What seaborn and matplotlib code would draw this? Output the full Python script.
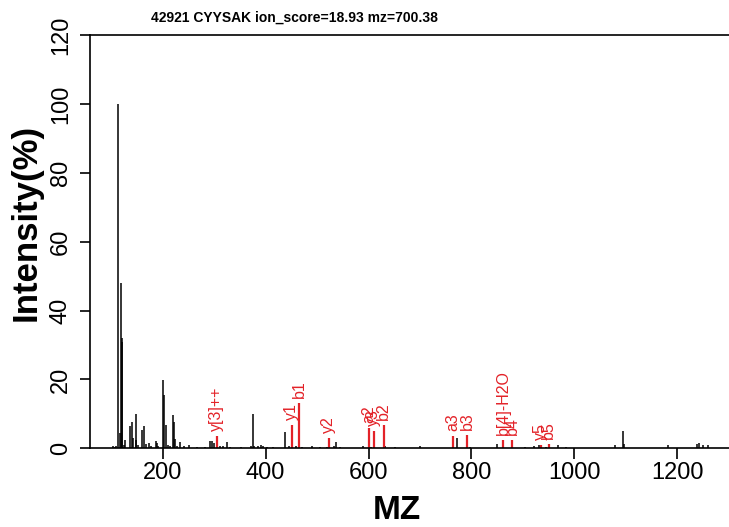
import numpy as np
import pandas as pd
import matplotlib
matplotlib.use("Agg")
import matplotlib.pyplot as plt
import seaborn as sns

# spectrum peaks (m/z, relative intensity %)
peak_mz = [103, 107, 110, 113, 116, 118.5, 120, 121, 124, 127, 135.8, 140, 142, 147.5, 149, 152,
           159, 164.5, 167, 174, 178, 186, 188.5, 191, 201, 203, 206, 210, 215, 219.5, 221.5, 224,
           228, 233.5, 241, 251.5, 266, 283, 292, 296, 300, 312, 318, 324, 330, 353, 372, 374.5,
           378, 386, 390, 395, 402, 415, 437.5, 445, 458, 470, 490, 506, 520, 533, 536.5, 545,
           590, 604, 632, 651, 700, 772.5, 797, 850, 904, 921.5, 932, 944, 967.5, 983, 1078,
           1094.5, 1097, 1181, 1237.5, 1242.5, 1250.5, 1259]
peak_int = [0.6, 0.5, 0.8, 100, 4.5, 48, 32, 31, 1.0, 2.5, 6.5, 7.7, 3.0, 9.9, 2.5, 1.0,
            5.3, 6.5, 1.2, 1.5, 0.8, 2.2, 1.6, 0.8, 19.9, 15.5, 6.8, 1.0, 0.8, 9.7, 7.7, 2.7,
            0.8, 1.9, 0.6, 1.1, 0.5, 0.4, 2.1, 2.0, 1.5, 0.8, 0.6, 1.9, 0.5, 0.4, 0.7, 9.9,
            0.8, 0.8, 0.9, 0.6, 0.5, 0.4, 4.8, 0.6, 0.7, 0.5, 0.8, 0.5, 0.5, 0.8, 1.9, 0.4,
            0.8, 0.5, 0.7, 0.4, 0.8, 3.0, 0.5, 1.3, 0.4, 0.8, 1.1, 0.5, 1.0, 0.4, 0.9,
            5.1, 1.2, 0.9, 1.2, 1.6, 0.9, 0.9]

# matched fragment ions
ion_labels = ["y[3]++", "y1", "b1", "y2", "a2", "y3", "b2", "a3", "b3", "b[4]-H2O", "b4", "y5", "b5"]
ion_mz = [305, 451, 465, 523, 601, 610, 629, 763.5, 791.3, 862, 879.5, 935, 950]
ion_int = [3.6, 6.8, 13.1, 3.0, 5.8, 4.9, 6.8, 3.6, 3.8, 2.3, 2.3, 1.0, 1.2]

title = "42921 CYYSAK ion_score=18.93 mz=700.38"

sns.set_style("ticks", {"axes.edgecolor": "black", "xtick.color": "black",
                        "ytick.color": "black", "text.color": "black",
                        "axes.labelcolor": "black"})
plt.rcParams['font.family'] = ['Liberation Sans', 'DejaVu Sans']

peaks = pd.DataFrame({"mz": peak_mz, "intensity": peak_int})
ions = pd.DataFrame({"mz": ion_mz, "intensity": ion_int, "label": ion_labels})

fig = plt.figure(figsize=(7.29, 5.27), dpi=100)
ax = fig.add_axes([0.1235, 0.1493, 0.8765, 0.7843])

ax.vlines(peaks["mz"], 0, peaks["intensity"], color="black", linewidth=1.1)
ax.vlines(ions["mz"], 0, ions["intensity"], color="#e32228", linewidth=1.6)
for _, r in ions.iterrows():
    ax.text(r["mz"], r["intensity"] + 1.5, r["label"], rotation=90, ha="center", va="bottom",
            color="#e32228", fontsize=11.5)

ax.set_xlim(58.7, 1300.4)
ax.set_ylim(0, 120)
ax.set_xticks([200, 400, 600, 800, 1000, 1200])
ax.set_yticks([0, 20, 40, 60, 80, 100, 120])
ax.tick_params(axis="x", length=8, width=1.2, labelsize=17, pad=2)
ax.tick_params(axis="y", length=7, width=1.2, labelsize=17, pad=6)
for lab in ax.get_yticklabels():
    lab.set_rotation(90)
    lab.set_va("center")
ax.spines["right"].set_visible(False)
for s in ["left", "top", "bottom"]:
    ax.spines[s].set_linewidth(1.2)

ax.set_xlabel("MZ", fontsize=24, fontweight="bold", labelpad=8)
ax.set_ylabel("Intensity(%)", fontsize=25, fontweight="bold", labelpad=5)
ax.xaxis.label.set_x(0.48)
ax.yaxis.label.set_y(0.547)
fig.text(294 / 729, 1 - 18 / 527, title, ha="center", va="center", fontsize=10, fontweight="bold")

plt.savefig("out.png", dpi=100)
